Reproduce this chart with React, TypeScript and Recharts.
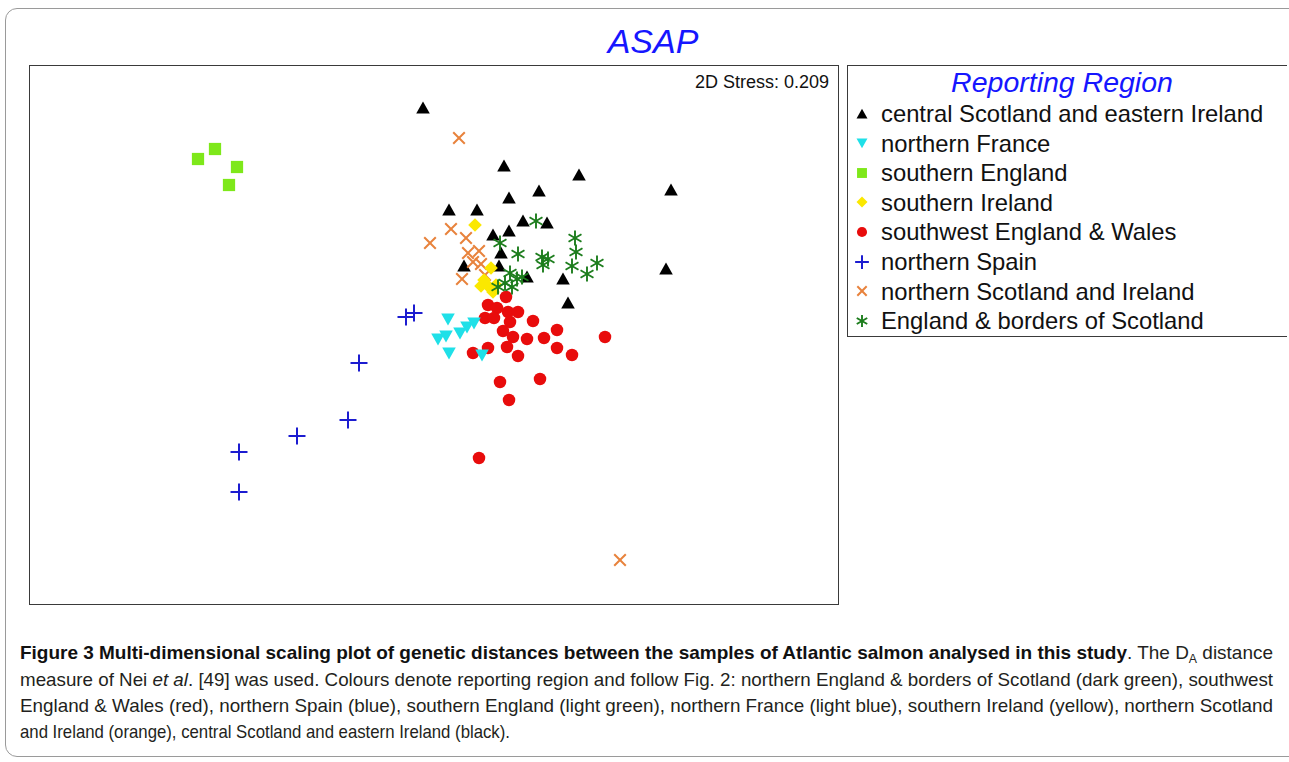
import React from "react";
import { ScatterChart, Scatter, XAxis, YAxis } from "recharts";

// MDS coordinates (arbitrary units)
const centralScotland = [
  [-0.055, 1.135], [0.35, 0.845], [0.725, 0.8], [1.185, 0.725], [0.375, 0.685],
  [0.525, 0.72], [0.075, 0.625], [0.215, 0.625], [0.445, 0.57], [0.565, 0.56],
  [0.375, 0.52], [0.295, 0.5], [0.335, 0.41], [0.15, 0.345], [0.325, 0.345],
  [0.465, 0.29], [0.645, 0.28], [1.16, 0.33], [0.67, 0.16],
];
const northernFrance = [
  [0.07, 0.08], [0.02, -0.02], [0.06, -0.005], [0.075, -0.09],
  [0.13, 0.01], [0.165, 0.04], [0.2, 0.06], [0.24, -0.1],
];
const southernEngland = [[-1.18, 0.88], [-1.095, 0.93], [-0.985, 0.84], [-1.025, 0.75]];
const southernIreland = [
  [0.205, 0.55], [0.285, 0.335], [0.25, 0.275], [0.275, 0.24],
  [0.31, 0.25], [0.235, 0.245], [0.295, 0.215],
];
const southwestEngland = [
  [0.36, 0.19], [0.27, 0.15], [0.315, 0.135], [0.255, 0.085], [0.3, 0.085],
  [0.37, 0.115], [0.42, 0.115], [0.38, 0.065], [0.495, 0.07], [0.345, 0.02],
  [0.615, 0.025], [0.395, -0.01], [0.465, -0.02], [0.55, -0.015], [0.855, -0.01],
  [0.27, -0.065], [0.365, -0.06], [0.195, -0.09], [0.615, -0.065], [0.42, -0.105],
  [0.69, -0.1], [0.33, -0.235], [0.53, -0.22], [0.375, -0.325], [0.225, -0.615],
];
const northernSpain = [
  [-0.14, 0.09], [-0.1, 0.11], [-0.375, -0.14], [-0.43, -0.425],
  [-0.685, -0.505], [-0.975, -0.585], [-0.975, -0.785],
];
const northernScotland = [
  [0.125, 0.985], [-0.02, 0.46], [0.085, 0.53], [0.16, 0.485], [0.17, 0.41],
  [0.225, 0.42], [0.195, 0.365], [0.235, 0.355], [0.14, 0.28], [0.255, 0.3],
  [0.93, -1.125],
];
const englandBorders = [
  [0.51, 0.57], [0.33, 0.46], [0.42, 0.405], [0.54, 0.39], [0.57, 0.38],
  [0.545, 0.35], [0.705, 0.485], [0.71, 0.415], [0.69, 0.345], [0.765, 0.305],
  [0.815, 0.36], [0.38, 0.31], [0.44, 0.29], [0.355, 0.26], [0.39, 0.24],
  [0.415, 0.28], [0.32, 0.24],
];

const X_DOMAIN = [-2.025, 2.025];
const Y_DOMAIN = [-1.35, 1.35];
const STRESS = "2D Stress: 0.209";

const toPts = (arr: number[][]) => arr.map(([x, y]) => ({ x, y }));

type Marker = (cx: number, cy: number, s: number, c: string) => React.ReactElement;

const triUp: Marker = (cx, cy, s, c) => (
  <polygon points={`${cx - s},${cy + s * 0.8} ${cx + s},${cy + s * 0.8} ${cx},${cy - s * 0.95}`} fill={c} />
);
const triDown: Marker = (cx, cy, s, c) => (
  <polygon points={`${cx - s},${cy - s * 0.8} ${cx + s},${cy - s * 0.8} ${cx},${cy + s * 0.95}`} fill={c} />
);
const square: Marker = (cx, cy, s, c) => (
  <rect x={cx - s * 0.9} y={cy - s * 0.9} width={s * 1.8} height={s * 1.8} fill={c} />
);
const diamond: Marker = (cx, cy, s, c) => (
  <polygon points={`${cx},${cy - s} ${cx + s},${cy} ${cx},${cy + s} ${cx - s},${cy}`} fill={c} />
);
const dot: Marker = (cx, cy, s, c) => <circle cx={cx} cy={cy} r={s * 0.92} fill={c} />;
const plus: Marker = (cx, cy, s, c) => (
  <g stroke={c} strokeWidth={2}>
    <line x1={cx - s * 1.25} y1={cy} x2={cx + s * 1.25} y2={cy} />
    <line x1={cx} y1={cy - s * 1.25} x2={cx} y2={cy + s * 1.25} />
  </g>
);
const cross: Marker = (cx, cy, s, c) => (
  <g stroke={c} strokeWidth={2}>
    <line x1={cx - s * 0.85} y1={cy - s * 0.85} x2={cx + s * 0.85} y2={cy + s * 0.85} />
    <line x1={cx - s * 0.85} y1={cy + s * 0.85} x2={cx + s * 0.85} y2={cy - s * 0.85} />
  </g>
);
const asterisk: Marker = (cx, cy, s, c) => {
  const r = s * 1.1;
  const dx = r * Math.cos(Math.PI / 6);
  const dy = r * Math.sin(Math.PI / 6);
  return (
    <g stroke={c} strokeWidth={1.9}>
      <line x1={cx} y1={cy - r} x2={cx} y2={cy + r} />
      <line x1={cx - dx} y1={cy - dy} x2={cx + dx} y2={cy + dy} />
      <line x1={cx - dx} y1={cy + dy} x2={cx + dx} y2={cy - dy} />
    </g>
  );
};

const series = [
  { name: "central Scotland and eastern Ireland", data: centralScotland, color: "#000000", marker: triUp },
  { name: "northern France", data: northernFrance, color: "#1fe0e8", marker: triDown },
  { name: "southern England", data: southernEngland, color: "#7ee81a", marker: square },
  { name: "southern Ireland", data: southernIreland, color: "#fbe800", marker: diamond },
  { name: "southwest England & Wales", data: southwestEngland, color: "#e80c0c", marker: dot },
  { name: "northern Spain", data: northernSpain, color: "#1c1cd0", marker: plus },
  { name: "northern Scotland and Ireland", data: northernScotland, color: "#e8823c", marker: cross },
  { name: "England & borders of Scotland", data: englandBorders, color: "#1d7d1d", marker: asterisk },
];

// drawing order, back to front
const drawOrder = [4, 1, 0, 6, 3, 7, 5, 2];

const arial = "'Liberation Sans', Arial, sans-serif";

const PLOT = { left: 29, top: 65, width: 810, height: 540 };

export default function App() {
  return (
    <div style={{ position: "absolute", left: 0, top: 0, width: 1289, height: 762, overflow: "hidden", background: "#fff" }}>
      {/* card frame */}
      <div style={{ position: "absolute", left: 5, top: 8, width: 1320, height: 749, border: "1px solid #9a9a9a", borderRadius: 12, boxSizing: "border-box" }} />

      <div style={{ position: "absolute", left: 553, top: 24, width: 200, textAlign: "center", fontFamily: arial, fontStyle: "italic", fontSize: 34, lineHeight: "34px", color: "#1616ff" }}>
        ASAP
      </div>

      <div style={{ position: "absolute", ...PLOT, border: "1px solid #3a3a3a", boxSizing: "border-box" }} />
      <div style={{ position: "absolute", left: PLOT.left, top: PLOT.top }}>
        <ScatterChart width={PLOT.width} height={PLOT.height} margin={{ top: 0, right: 0, bottom: 0, left: 0 }}>
          <XAxis type="number" dataKey="x" domain={X_DOMAIN} hide allowDataOverflow />
          <YAxis type="number" dataKey="y" domain={Y_DOMAIN} hide allowDataOverflow />
          {drawOrder.map((i) => {
            const s = series[i];
            return (
              <Scatter
                key={s.name}
                name={s.name}
                data={toPts(s.data)}
                isAnimationActive={false}
                shape={(p: any) => s.marker(p.cx, p.cy, 6.8, s.color)}
              />
            );
          })}
        </ScatterChart>
      </div>

      <div style={{ position: "absolute", left: 639, top: 73, width: 190, textAlign: "right", fontFamily: arial, fontSize: 18, lineHeight: "18px", color: "#111" }}>
        {STRESS}
      </div>

      {/* legend */}
      <div style={{ position: "absolute", left: 847, top: 65, width: 440, height: 272, border: "1px solid #3a3a3a", borderRight: "none", boxSizing: "border-box" }} />
      <div style={{ position: "absolute", left: 847, top: 68, width: 430, textAlign: "center", fontFamily: arial, fontStyle: "italic", fontSize: 28.5, lineHeight: "28px", color: "#1616ff" }}>
        Reporting Region
      </div>
      {series.map((s, i) => (
        <div key={s.name} style={{ position: "absolute", left: 852, top: 102 + i * 29.6, height: 23, display: "flex", alignItems: "center", whiteSpace: "nowrap" }}>
          <svg width={20} height={20} style={{ marginRight: 9 }}>
            {s.marker(10, 10, 5.5, s.color)}
          </svg>
          <span style={{ fontFamily: arial, fontSize: 23.8, lineHeight: "23px", color: "#111" }}>{s.name}</span>
        </div>
      ))}

      {/* caption */}
      <svg style={{ position: "absolute", left: 0, top: 630 }} width={1289} height={132}>
        <g fontFamily={arial} fontSize={18.5} fill="#231f20">
          <text x={20} y={29} textLength={1253} lengthAdjust="spacingAndGlyphs">
            <tspan fontWeight="bold" fill="#111">Figure 3 Multi-dimensional scaling plot of genetic distances between the samples of Atlantic salmon analysed in this study</tspan>
            <tspan>. The D</tspan>
            <tspan fontSize={12} dy={4}>A</tspan>
            <tspan dy={-4}> distance</tspan>
          </text>
          <text x={20} y={56} textLength={1253} lengthAdjust="spacingAndGlyphs">
            <tspan>measure of Nei </tspan>
            <tspan fontStyle="italic">et al</tspan>
            <tspan>. [49] was used. Colours denote reporting region and follow Fig. 2: northern England &amp; borders of Scotland (dark green), southwest</tspan>
          </text>
          <text x={20} y={82} textLength={1253} lengthAdjust="spacingAndGlyphs">
            England &amp; Wales (red), northern Spain (blue), southern England (light green), northern France (light blue), southern Ireland (yellow), northern Scotland
          </text>
          <text x={20} y={108} textLength={490} lengthAdjust="spacingAndGlyphs">
            and Ireland (orange), central Scotland and eastern Ireland (black).
          </text>
        </g>
      </svg>
    </div>
  );
}
